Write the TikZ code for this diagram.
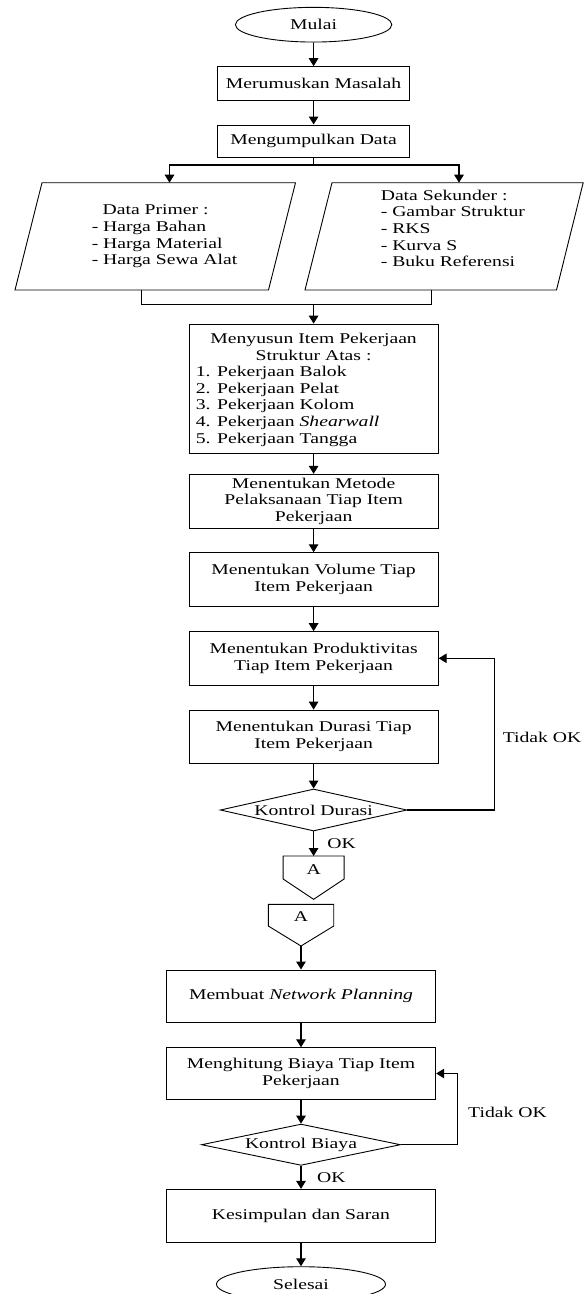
\documentclass[tikz,border=0pt]{standalone}
\usepackage{fontspec}
\setmainfont{Liberation Serif}[FakeStretch=1.32]
\usetikzlibrary{shapes.geometric,arrows.meta}
\begin{document}
\begin{tikzpicture}[x=1pt,y=-1pt,
  txt/.style={font=\fontsize{14.9}{16.7}\selectfont, inner sep=0pt, align=center},
  shp/.style={draw=black, line width=0.9pt},
  proc/.style={shp, txt, rectangle},
  term/.style={shp, txt, ellipse},
  dec/.style={shp, txt, diamond},
  conn/.style={line width=1.3pt},
  arr/.style={conn, -{Triangle[width=9.5pt,length=8pt]}}
]
\clip (0,0) rectangle (584,1294);
\fill[white] (0,0) rectangle (584,1294);

% top part
\node[term, minimum width=156.4pt, minimum height=34.7pt] (start) at (313.6,24.7) {Mulai};
\node[proc, minimum width=192.5pt, minimum height=33.3pt] (m1) at (313.6,83.3) {Merumuskan Masalah};
\node[proc, minimum width=192.5pt, minimum height=32.7pt] (m2) at (313.6,141.3) {Mengumpulkan Data};

% parallelograms
\draw[shp] (15,290) -- (268.5,290) -- (295.5,182.7) -- (42,182.7) -- cycle;
\draw[shp] (305,290) -- (556.5,290) -- (583.2,182.7) -- (332,182.7) -- cycle;
\node[txt, align=left, anchor=west] (pL) at (91.6,236.5) {\hspace*{10.8pt}Data Primer :\\- Harga Bahan\\- Harga Material\\- Harga Sewa Alat};
\node[txt, align=left, anchor=west] (pR) at (380.6,228.3) {Data Sekunder :\\- Gambar Struktur\\- RKS\\- Kurva S\\- Buku Referensi};
\coordinate (j1) at (313.6,165);
\coordinate (pLt) at (169.5,182.7);
\coordinate (pRt) at (459,182.7);
\coordinate (pLb) at (141.5,290);
\coordinate (pRb) at (431.3,290);
\coordinate (j2) at (313.6,304.5);

% process boxes
\node[proc, minimum width=249.3pt, minimum height=129.3pt] (s1) at (313.6,388.7) {};
\node[txt] (s1h) at (313.6,347.2) {Menyusun Item Pekerjaan\\Struktur Atas :};
\node[txt, align=left, anchor=west] (s1l) at (195.7,406.2) {1. Pekerjaan Balok\\2. Pekerjaan Pelat\\3. Pekerjaan Kolom\\4. Pekerjaan \textit{Shearwall}\\5. Pekerjaan Tangga};
\node[proc, minimum width=249.3pt, minimum height=54pt] (s2) at (313.6,501.3) {Menentukan Metode\\Pelaksanaan Tiap Item\\Pekerjaan};
\node[proc, minimum width=249.3pt, minimum height=54pt] (s3) at (313.6,579.7) {Menentukan Volume Tiap\\Item Pekerjaan};
\node[proc, minimum width=249.3pt, minimum height=53.3pt] (s4) at (313.6,658.3) {Menentukan Produktivitas\\Tiap Item Pekerjaan};
\node[proc, minimum width=249.3pt, minimum height=53.3pt] (s5) at (313.6,736.7) {Menentukan Durasi Tiap\\Item Pekerjaan};
\node[dec, aspect=4.45, minimum width=186.7pt, minimum height=42pt] (d1) at (313.6,810) {Kontrol Durasi};

% off-page connectors
\draw[shp] (283.1,856) -- (344.1,856) -- (344.1,879) -- (313.6,899.3) -- (283.1,879) -- cycle;
\node[txt] (A1) at (313.6,869.5) {A};
\coordinate (A1t) at (313.6,856);
\draw[shp] (268.3,904.3) -- (333.7,904.3) -- (333.7,926) -- (301,946) -- (268.3,926) -- cycle;
\node[txt] (A2) at (301,917) {A};
\coordinate (A2b) at (301,946);

% lower part
\node[proc, minimum width=269.4pt, minimum height=52.7pt] (s6) at (301,996.3) {Membuat \textit{Network Planning}};
\node[proc, minimum width=269.4pt, minimum height=51.6pt] (s7) at (301,1073.5) {Menghitung Biaya Tiap Item\\Pekerjaan};
\node[dec, aspect=4.8, minimum width=199pt, minimum height=41.3pt] (d2) at (301,1144.7) {Kontrol Biaya};
\node[proc, minimum width=269.4pt, minimum height=53pt] (s8) at (301,1215.8) {Kesimpulan dan Saran};
\node[term, minimum width=169pt, minimum height=35pt] (end) at (301,1284.2) {Selesai};

% labels
\node[txt] (ok1) at (341.7,843.8) {OK};
\node[txt] (ok2) at (331.3,1177.2) {OK};
\node[txt] (t1) at (542,737.2) {Tidak OK};
\node[txt] (t2) at (507.5,1112.2) {Tidak OK};

% connectors
\draw[arr] (start) -- (m1);
\draw[arr] (m1) -- (m2);
\draw[conn] (m2.south) -- (j1);
\draw[arr] (j1) -| (pLt);
\draw[arr] (j1) -| (pRt);
\draw[conn] (pLb) |- (j2) -| (pRb);
\draw[arr] (j2) -- (s1.north);
\draw[arr] (s1) -- (s2);
\draw[arr] (s2) -- (s3);
\draw[arr] (s3) -- (s4);
\draw[arr] (s4) -- (s5);
\draw[arr] (s5) -- (d1);
\draw[arr] (d1.south) -- (A1t);
\coordinate (f1) at (494.3,810);
\draw[arr] (d1.east) -- (f1) |- (s4.east);
\draw[arr] (A2b) -- (s6.north);
\draw[arr] (s6) -- (s7);
\draw[arr] (s7) -- (d2);
\draw[arr] (d2) -- (s8);
\coordinate (f2) at (457.3,1144.7);
\draw[arr] (d2.east) -- (f2) |- (s7.east);
\draw[arr] (s8) -- (end);
\end{tikzpicture}
\end{document}
